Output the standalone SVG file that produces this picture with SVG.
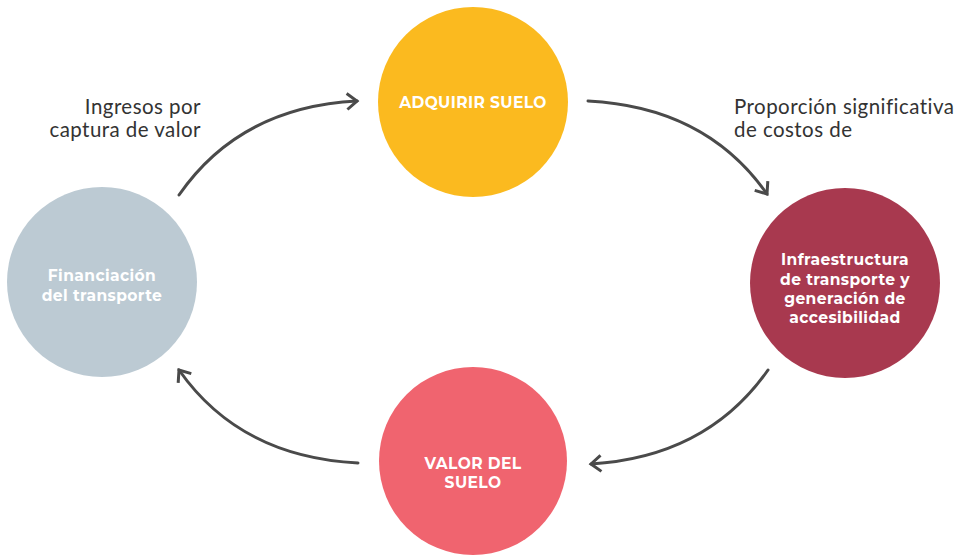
<svg xmlns="http://www.w3.org/2000/svg" width="957" height="555" viewBox="0 0 957 555">
<style>
.node-label{font-family:"Montserrat","Lato","Liberation Sans",sans-serif;font-weight:bold;font-size:15.5px;letter-spacing:0.4px;fill:#ffffff;text-anchor:middle}
.note{font-family:"Lato","Liberation Sans",sans-serif;font-size:20.5px;letter-spacing:0.45px;fill:#333333}
.conn{fill:none;stroke:#4a4a4a;stroke-width:3;stroke-linecap:round}
</style>
<defs>
<marker id="chevL" viewBox="0 0 20 20" refX="17" refY="10" markerWidth="20" markerHeight="20" markerUnits="userSpaceOnUse" orient="auto">
<path d="M7,2 L17,10 L7,18" fill="none" stroke="#4a4a4a" stroke-width="3" stroke-linejoin="miter"/>
</marker>
</defs>
<rect width="957" height="555" fill="#ffffff"/>
<g id="connectors">
<path class="conn" d="M179,195 Q240,107 357,101" marker-end="url(#chevL)"/>
<path class="conn" d="M588,101 Q706,107 767,194" marker-end="url(#chevL)"/>
<path class="conn" d="M768,370 Q707,457 591,464" marker-end="url(#chevL)"/>
<path class="conn" d="M358,463 Q240,457 179,370" marker-end="url(#chevL)"/>
</g>
<g id="adquirir-suelo">
<circle cx="473" cy="102" r="95" fill="#FBBA1F"/>
<text class="node-label" x="473" y="108">ADQUIRIR SUELO</text>
</g>
<g id="infraestructura">
<circle cx="845" cy="283" r="95" fill="#A8394F"/>
<text class="node-label" x="845" y="265">Infraestructura</text>
<text class="node-label" x="845" y="285">de transporte y</text>
<text class="node-label" x="845" y="304">generación de</text>
<text class="node-label" x="845" y="323">accesibilidad</text>
</g>
<g id="valor-del-suelo">
<circle cx="473" cy="461" r="94" fill="#F0646F"/>
<text class="node-label" x="473" y="469">VALOR DEL</text>
<text class="node-label" x="473" y="488">SUELO</text>
</g>
<g id="financiacion">
<circle cx="102" cy="282" r="95" fill="#BCCAD3"/>
<text class="node-label" x="102" y="281">Financiación</text>
<text class="node-label" x="102" y="301">del transporte</text>
</g>
<g id="labels">
<text class="note" x="201" y="114" text-anchor="end">Ingresos por</text>
<text class="note" x="201" y="137" text-anchor="end">captura de valor</text>
<text class="note" x="734" y="114">Proporción significativa</text>
<text class="note" x="734" y="137">de costos de</text>
</g>
</svg>
